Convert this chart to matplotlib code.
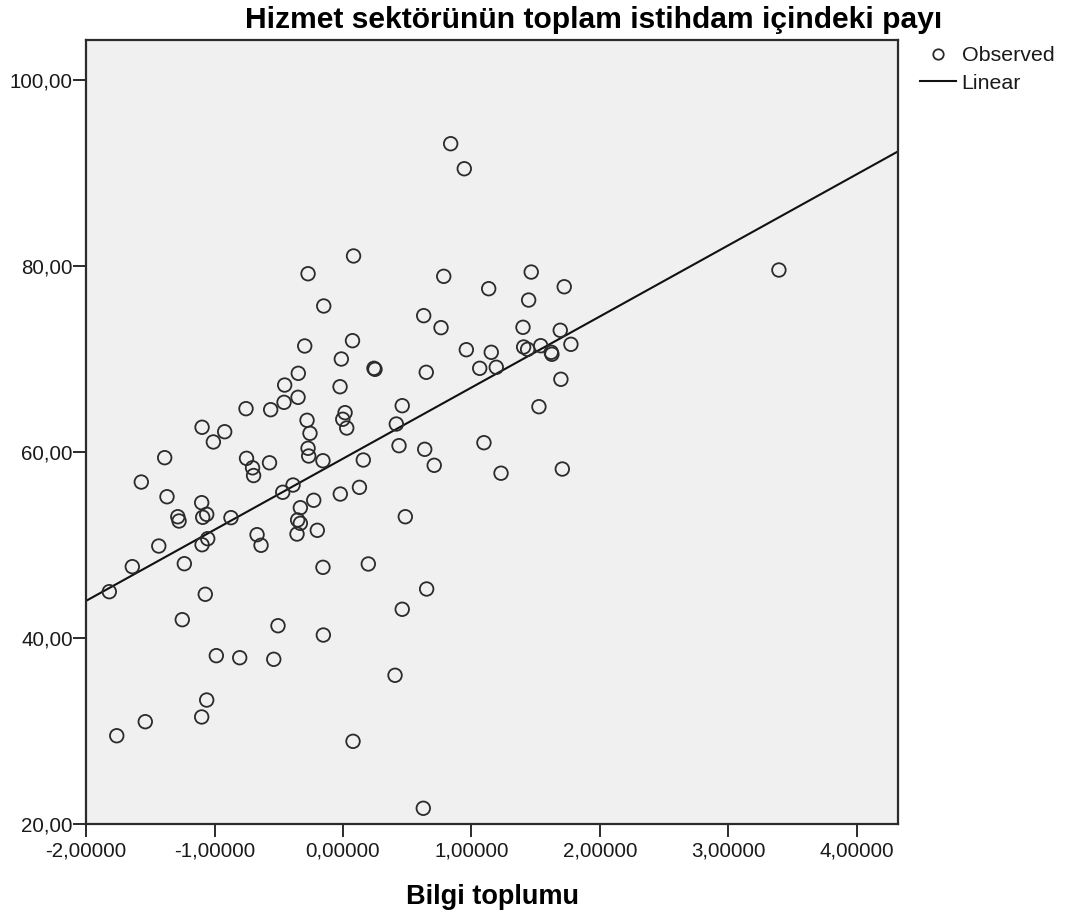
import numpy as np
import matplotlib
matplotlib.use('Agg')
import matplotlib.pyplot as plt
import matplotlib.ticker as mticker
from matplotlib.lines import Line2D

# ── Data ───────────────────────────────────────────────────────
bilgi_toplumu = [
    0.838, 0.944, 3.393, -0.272, 0.082, 1.465, 0.784, 1.722, 1.134, 1.445,
    -0.150, 0.628, 0.763, 1.401, 1.691, 0.074, -0.298, 1.774, 1.539, 1.406,
    1.437, 0.960, 1.154, 1.621, 1.626, 1.193, 1.064, 0.241, 0.249, -0.013,
    -0.348, 0.648, -0.023, -0.454, -0.350, -0.459, -0.755, -0.563, 0.461, 1.525,
    0.016, -0.002, -0.280, 0.415, -1.097, 0.029, -0.921, -0.257, -1.009, 1.097,
    0.436, 0.636, -0.272, -0.267, -1.388, -0.751, -0.156, 0.158, -0.572, -0.704,
    -0.696, 1.707, 0.710, 1.230, -1.570, -0.389, 0.128, -0.469, -0.021, -1.370,
    -0.228, -1.100, -0.332, -0.353, -0.332, -0.358, -0.200, -1.286, -1.276, -1.061,
    -1.092, -0.872, 0.485, -0.669, -1.053, -1.097, -0.638, -1.434, -1.235, 0.197,
    -0.156, -1.640, -1.819, 0.651, -1.072, 0.461, -1.251, -0.506, -0.153, -0.986,
    -0.804, -0.539, 0.405, -1.061, -1.539, -1.100, -1.761, 0.078, 0.625, 1.696,
]
hizmet_payi = [
    93.15, 90.46, 79.57, 79.17, 81.08, 79.35, 78.89, 77.77, 77.56, 76.34,
    75.70, 74.66, 73.37, 73.41, 73.09, 71.97, 71.40, 71.58, 71.43, 71.29,
    71.04, 71.00, 70.72, 70.72, 70.51, 69.11, 69.00, 69.00, 68.89, 70.00,
    68.46, 68.57, 67.02, 67.20, 65.88, 65.34, 64.66, 64.55, 64.98, 64.87,
    64.23, 63.52, 63.41, 63.01, 62.66, 62.58, 62.18, 62.01, 61.08, 61.00,
    60.68, 60.29, 60.40, 59.57, 59.39, 59.32, 59.06, 59.14, 58.84, 58.30,
    57.47, 58.17, 58.57, 57.72, 56.77, 56.45, 56.20, 55.67, 55.48, 55.19,
    54.81, 54.55, 54.01, 52.69, 52.33, 51.18, 51.58, 53.04, 52.58, 53.30,
    52.98, 52.94, 53.04, 51.11, 50.68, 50.03, 49.97, 49.89, 47.99, 47.96,
    47.60, 47.67, 44.98, 45.27, 44.70, 43.09, 41.97, 41.32, 40.32, 38.10,
    37.88, 37.71, 35.99, 33.33, 31.00, 31.51, 29.49, 28.89, 21.69, 67.82,
]

title_text = 'Hizmet sektörünün toplam istihdam içindeki payı'
x_label = 'Bilgi toplumu'
x_ticks = [-2, -1, 0, 1, 2, 3, 4]
y_ticks = [20, 40, 60, 80, 100]

# ── Style ──────────────────────────────────────────────────────
plt.rcParams['font.family'] = ['Liberation Sans', 'DejaVu Sans']
TEXT_COL = '#1a1a1a'
EDGE_COL = '#2b2b2b'

fig = plt.figure(figsize=(10.65, 9.18), dpi=100)
fig.patch.set_facecolor('white')
ax = fig.add_axes([0.0808, 0.1024, 0.7624, 0.8540])
ax.set_facecolor('#f0f0f0')

x = np.array(bilgi_toplumu)
y = np.array(hizmet_payi)

# Observed points
ax.scatter(x, y, s=95, facecolors='none', edgecolors=EDGE_COL,
           linewidths=1.3, zorder=3)

# Linear fit (least squares on the observed points)
slope, intercept = np.polyfit(x, y, 1)
xl = np.array([-2.0, 4.32])
ax.plot(xl, intercept + slope * xl, color='#111111', linewidth=1.5, zorder=2)

ax.set_xlim(-2.0, 4.32)
ax.set_ylim(20, 104.3)
ax.set_xticks(x_ticks)
ax.set_yticks(y_ticks)
ax.xaxis.set_major_formatter(mticker.FuncFormatter(lambda v, _: f'{v:.5f}'.replace('.', ',')))
ax.yaxis.set_major_formatter(mticker.FuncFormatter(lambda v, _: f'{v:.2f}'.replace('.', ',')))
ax.tick_params(axis='both', direction='out', length=9.5, width=1.4,
               color=EDGE_COL, labelsize=14.8, labelcolor=TEXT_COL)
ax.tick_params(axis='x', pad=3)
ax.tick_params(axis='y', pad=0)
for sp in ax.spines.values():
    sp.set_color(EDGE_COL)
    sp.set_linewidth(1.6)

ax.set_xlabel(x_label, fontsize=19.5, fontweight='bold', color='black', labelpad=17)

fig.text(0.557, 0.978, title_text, ha='center', va='center',
         fontsize=21.6, fontweight='bold', color='black')

# ── Legend ─────────────────────────────────────────────────────
handles = [
    Line2D([], [], linestyle='none', marker='o', markersize=7.5,
           markerfacecolor='none', markeredgecolor=EDGE_COL, markeredgewidth=1.3),
    Line2D([], [], color='#111111', linewidth=1.5),
]
leg = fig.legend(handles, ['Observed', 'Linear'], loc='upper left',
                 bbox_to_anchor=(920 / 1065, 1 - 46 / 918),
                 frameon=False, fontsize=15.4, handlelength=1.7,
                 handletextpad=0.25, labelspacing=0.42, borderpad=0,
                 borderaxespad=0)
for t in leg.get_texts():
    t.set_color(TEXT_COL)

fig.savefig('out.png', dpi=100)
